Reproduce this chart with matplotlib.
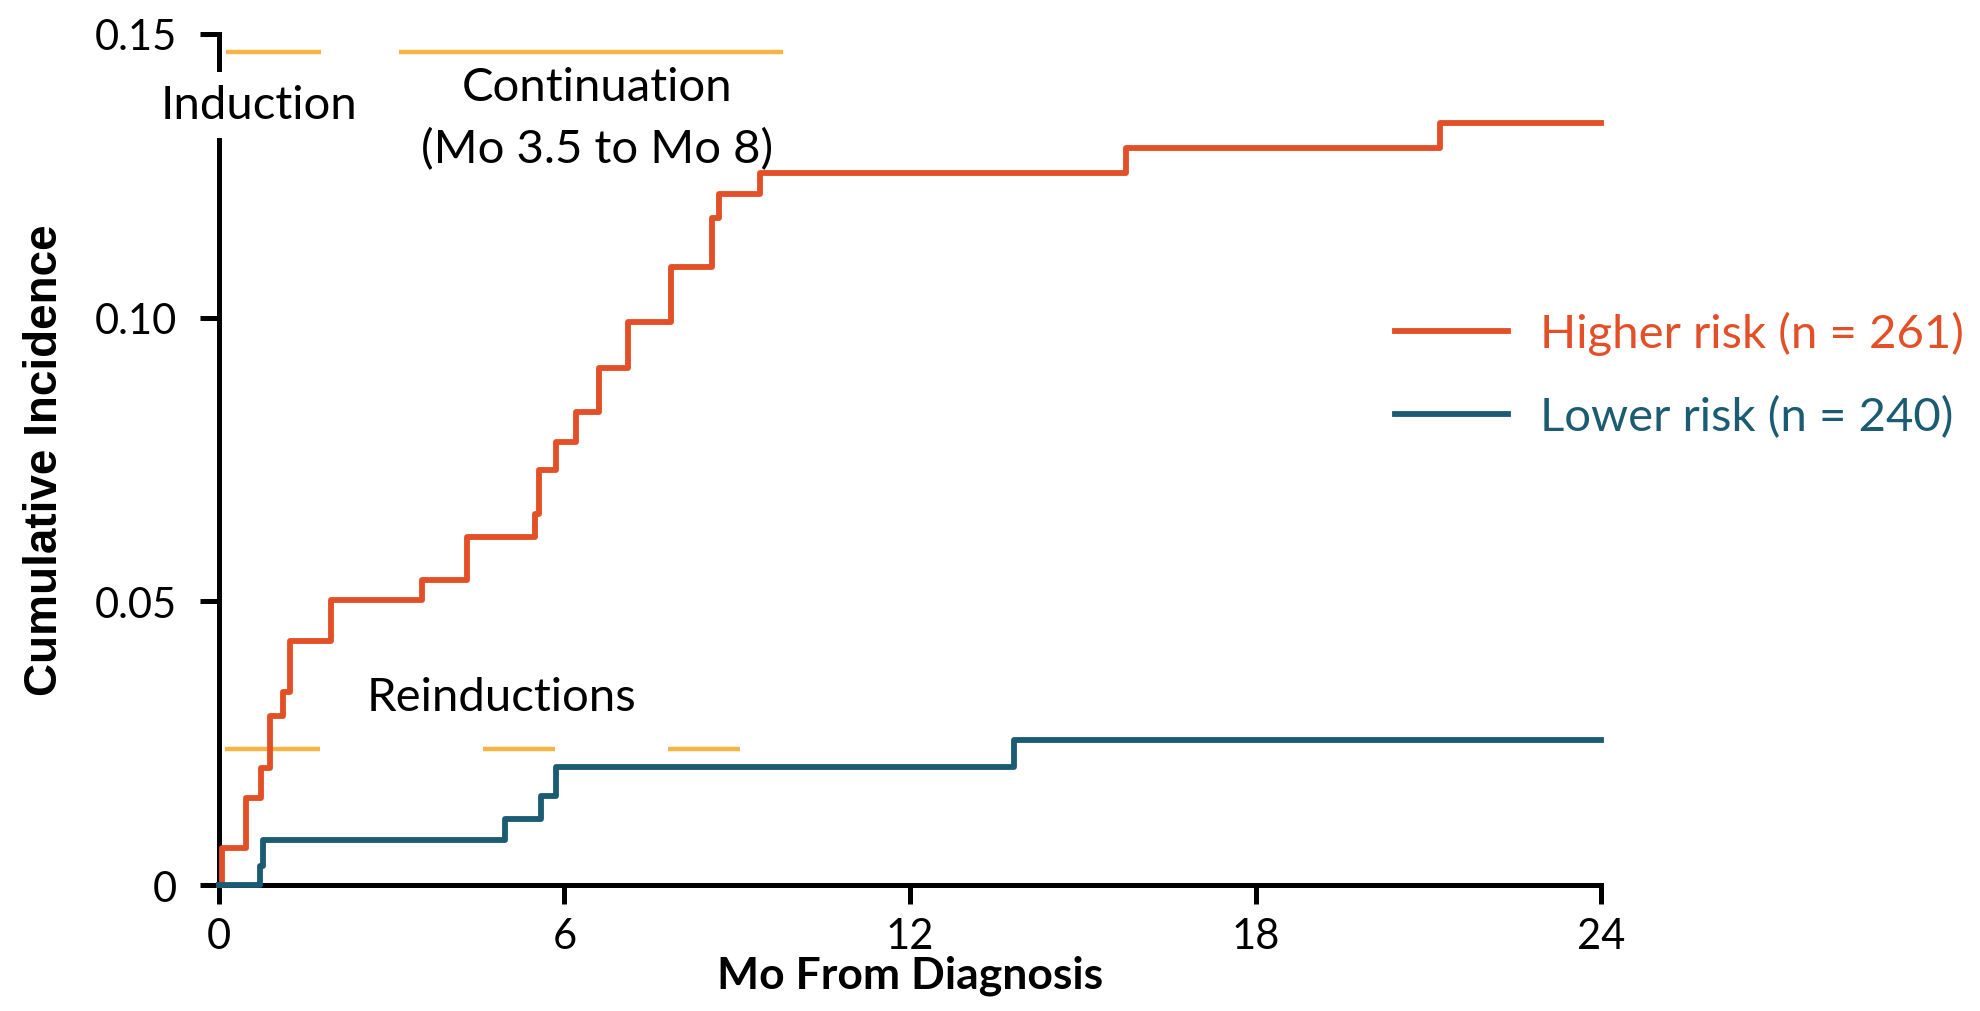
import matplotlib
matplotlib.use('Agg')
import matplotlib.pyplot as plt

plt.rcParams['font.family'] = ['Lato', 'DejaVu Sans']

# cumulative incidence (month, value)
hr_t = [0, 0.05, 0.47, 0.73, 0.88, 1.11, 1.23, 1.95, 3.52, 4.31, 5.49, 5.55, 5.86,
        6.2, 6.6, 7.1, 7.85, 8.57, 8.68, 9.4, 15.75, 21.2, 24]
hr_v = [0, 0.0065, 0.0153, 0.0206, 0.0297, 0.034, 0.043, 0.0502, 0.0537, 0.0614,
        0.0653, 0.0731, 0.078, 0.0834, 0.0912, 0.0992, 0.109, 0.1175, 0.1217,
        0.1255, 0.1299, 0.1343, 0.1343]
lr_t = [0, 0.71, 0.77, 4.97, 5.6, 5.85, 13.8, 24]
lr_v = [0, 0.0033, 0.0079, 0.0116, 0.0157, 0.0208, 0.0256, 0.0256]

hr_label = 'Higher risk (n = 261)'
lr_label = 'Lower risk (n = 240)'

# treatment phases (start, end) in months
top_y = 0.1468
top_start = [0.12, 3.12]
top_end = [1.77, 9.8]
reind_y = 0.024
reind_start = [0.1, 4.58, 7.8]
reind_end = [1.75, 5.83, 9.05]

x_ticks = [0, 6, 12, 18, 24]
y_ticks = [0, 0.05, 0.10, 0.15]
y_ticklabels = ['0', '0.05', '0.10', '0.15']

red = '#E34F26'
teal = '#1B5C73'
gold = '#F7B445'

fig = plt.figure(figsize=(19.8, 10.12), dpi=100)
ax = fig.add_axes([0.1106, 0.1245, 0.698, 0.841])

ax.hlines([top_y] * len(top_start), top_start, top_end, color=gold, lw=3.2, zorder=2)
ax.hlines([reind_y] * len(reind_start), reind_start, reind_end, color=gold, lw=3.2, zorder=2)

ax.step(hr_t, hr_v, where='post', color=red, lw=4.2, label=hr_label, zorder=3, clip_on=False)
ax.step(lr_t, lr_v, where='post', color=teal, lw=4.2, label=lr_label, zorder=3, clip_on=False)

ax.text(0.69, 0.1375, 'Induction', fontsize=34, ha='center', va='center', zorder=5,
        bbox=dict(facecolor='white', edgecolor='none', pad=9))
ax.text(6.56, 0.1407, 'Continuation', fontsize=34, ha='center', va='center')
ax.text(6.56, 0.1298, '(Mo 3.5 to Mo 8)', fontsize=34, ha='center', va='center')
ax.text(4.9, 0.0331, 'Reinductions', fontsize=34, ha='center', va='center')

ax.set_xlim(0, 24)
ax.set_ylim(0, 0.15)
ax.set_xticks(x_ticks)
ax.set_yticks(y_ticks)
ax.set_yticklabels(y_ticklabels)
ax.tick_params(direction='out', length=14, width=3.6, labelsize=30)
ax.tick_params(axis='x', pad=9)
ax.tick_params(axis='y', pad=16)

for s in ['top', 'right']:
    ax.spines[s].set_visible(False)
for s in ['left', 'bottom']:
    ax.spines[s].set_linewidth(3.6)

ax.set_xlabel('Mo From Diagnosis', fontsize=32, fontweight='bold', labelpad=0)
ax.set_ylabel('Cumulative Incidence', fontsize=33, fontweight='bold',
              family=['Liberation Sans', 'DejaVu Sans'], labelpad=20)

leg = ax.legend(loc='center left', bbox_to_anchor=(0.7045, 0.6287), bbox_transform=fig.transFigure,
                frameon=False, fontsize=34, handlelength=2.4, handletextpad=0.67,
                labelspacing=0.85, borderpad=0, borderaxespad=0, labelcolor='linecolor')

fig.savefig('out.png', dpi=100)
